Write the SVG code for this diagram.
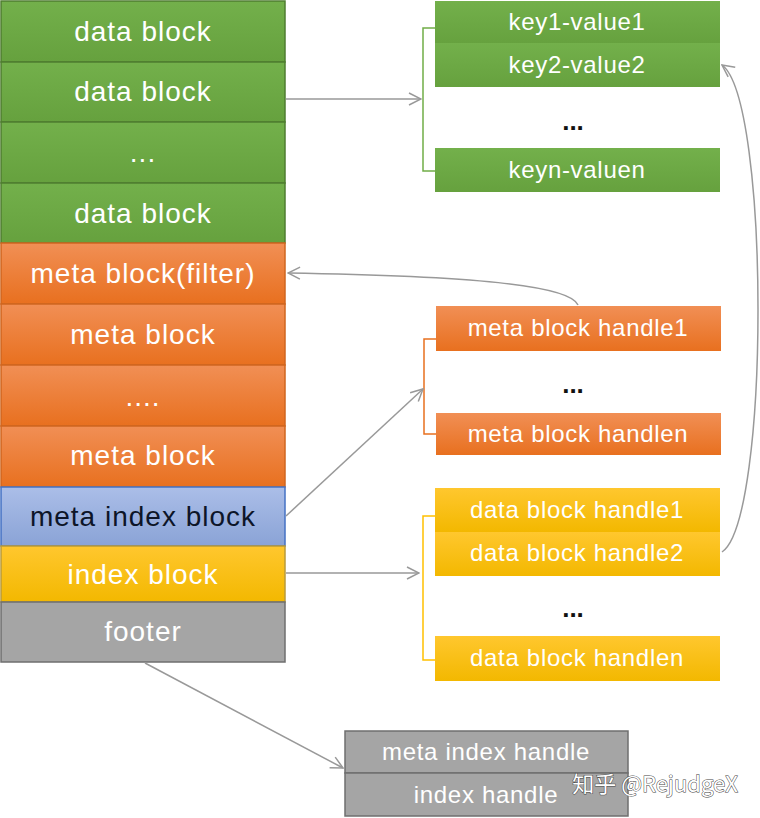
<svg xmlns="http://www.w3.org/2000/svg" width="760" height="818" viewBox="0 0 760 818">
<defs>
<linearGradient id="gG" x1="0" y1="0" x2="0" y2="1"><stop offset="0" stop-color="#73b04b"/><stop offset="1" stop-color="#66a13e"/></linearGradient>
<linearGradient id="gO" x1="0" y1="0" x2="0" y2="1"><stop offset="0" stop-color="#f18f55"/><stop offset="1" stop-color="#e8701f"/></linearGradient>
<linearGradient id="gB" x1="0" y1="0" x2="0" y2="1"><stop offset="0" stop-color="#abbee8"/><stop offset="1" stop-color="#8aa3d6"/></linearGradient>
<linearGradient id="gY" x1="0" y1="0" x2="0" y2="1"><stop offset="0" stop-color="#ffc72e"/><stop offset="1" stop-color="#f3b800"/></linearGradient>
<marker id="ah" markerWidth="14" markerHeight="14" refX="13" refY="7" orient="auto" markerUnits="userSpaceOnUse">
<path d="M1,1 L13,7 L1,13" fill="none" stroke="#999" stroke-width="1.5"/>
</marker>
</defs>
<style>
text{font-family:"Liberation Sans","Helvetica",Arial,sans-serif;text-anchor:middle}
.L{font-size:28px;letter-spacing:1px;fill:#fff}
.R{font-size:24px;letter-spacing:0.7px;fill:#fff}
.dk{fill:#0d1528}
.dots{font-size:26px;font-weight:bold;fill:#111}
.g{fill:url(#gG);stroke:#4f7d30;stroke-width:1.5}
.o{fill:url(#gO);stroke:#d0661f;stroke-width:1.5}
.b{fill:url(#gB);stroke:#4472c4;stroke-width:1.5}
.y{fill:url(#gY);stroke:#b99a3a;stroke-width:1.5}
.gr{fill:#a5a5a5;stroke:#6f6f6f;stroke-width:1.5}
.rg{fill:url(#gG)}
.ro{fill:url(#gO)}
.ry{fill:url(#gY)}
.con{fill:none;stroke:#999;stroke-width:1.5}
.br{fill:none;stroke-width:1.5}
</style>
<!-- left column -->
<g id="db1"><rect class="g" x="1" y="1" width="284" height="61"/><text class="L" x="143" y="41">data block</text></g>
<g id="db2"><rect class="g" x="1" y="62" width="284" height="60"/><text class="L" x="143" y="101">data block</text></g>
<g id="db3"><rect class="g" x="1" y="122" width="284" height="61"/><text class="L" x="143" y="162">...</text></g>
<g id="db4"><rect class="g" x="1" y="183" width="284" height="60"/><text class="L" x="143" y="223">data block</text></g>
<g id="mb1"><rect class="o" x="1" y="243" width="284" height="61"/><text class="L" x="143" y="283">meta block(filter)</text></g>
<g id="mb2"><rect class="o" x="1" y="304" width="284" height="61"/><text class="L" x="143" y="344">meta block</text></g>
<g id="mb3"><rect class="o" x="1" y="365" width="284" height="61"/><text class="L" x="143" y="406">....</text></g>
<g id="mb4"><rect class="o" x="1" y="426" width="284" height="61"/><text class="L" x="143" y="465">meta block</text></g>
<g id="mib"><rect class="b" x="1" y="487" width="284" height="59"/><text class="L dk" x="143" y="526">meta index block</text></g>
<g id="ib"><rect class="y" x="1" y="546" width="284" height="56"/><text class="L" x="143" y="584">index block</text></g>
<g id="footer"><rect class="gr" x="1" y="602" width="284" height="60"/><text class="L" x="143" y="641">footer</text></g>
<!-- key values -->
<g id="kv1"><rect class="rg" x="435" y="1" width="285" height="43"/><text class="R" x="577" y="30">key1-value1</text></g>
<g id="kv2"><rect class="rg" x="435" y="43" width="285" height="44"/><text class="R" x="577" y="73">key2-value2</text></g>
<g id="kvd"><text class="dots" x="573" y="130">...</text></g>
<g id="kvn"><rect class="rg" x="435" y="148" width="285" height="44"/><text class="R" x="577" y="178">keyn-valuen</text></g>
<!-- meta handles -->
<g id="mh1"><rect class="ro" x="436" y="306" width="285" height="45"/><text class="R" x="578" y="336">meta block handle1</text></g>
<g id="mhd"><text class="dots" x="573" y="393">...</text></g>
<g id="mhn"><rect class="ro" x="436" y="413" width="285" height="42"/><text class="R" x="578" y="442">meta block handlen</text></g>
<!-- data handles -->
<g id="dh1"><rect class="ry" x="435" y="488" width="285" height="44"/><text class="R" x="577" y="518">data block handle1</text></g>
<g id="dh2"><rect class="ry" x="435" y="532" width="285" height="44"/><text class="R" x="577" y="561">data block handle2</text></g>
<g id="dhd"><text class="dots" x="573" y="617">...</text></g>
<g id="dhn"><rect class="ry" x="435" y="636" width="285" height="45"/><text class="R" x="577" y="666">data block handlen</text></g>
<!-- footer contents -->
<g id="mih"><rect class="gr" x="345" y="731" width="283" height="42"/><text class="R" x="486" y="760">meta index handle</text></g>
<g id="ih"><rect class="gr" x="345" y="773" width="283" height="43"/><text class="R" x="486" y="803">index handle</text></g>
<!-- connectors -->
<g id="connectors">
<path class="br" stroke="#70ad47" d="M435,28 H423 V171 H435"/>
<path class="br" stroke="#e8701f" d="M436,339 H424 V434 H436"/>
<path class="br" stroke="#ffc000" d="M435,516 H423 V660 H435"/>
<path class="con" marker-end="url(#ah)" d="M286,99 L421,99"/>
<path class="con" marker-end="url(#ah)" d="M286,516 L423,389"/>
<path class="con" marker-end="url(#ah)" d="M286,573 L419,573"/>
<path class="con" marker-end="url(#ah)" d="M578,305 C570,285 470,276 288,273"/>
<path class="con" marker-end="url(#ah)" d="M722,552 C770,520 770,100 722,65"/>
<path class="con" marker-end="url(#ah)" d="M145,663 L343,768"/>
</g>
<text x="655" y="792" style="font-family:'Noto Sans CJK SC','Liberation Sans',sans-serif;font-size:22px;fill:#fff;stroke:#444;stroke-width:1;paint-order:stroke">知乎 @RejudgeX</text>
</svg>
